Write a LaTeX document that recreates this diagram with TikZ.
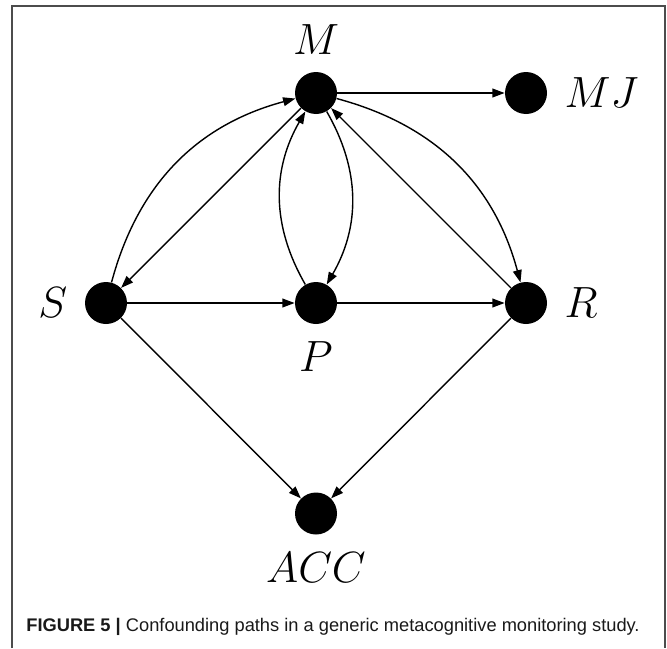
\documentclass[tikz,border=0pt]{standalone}
\usepackage{fontspec}
\usepackage{xcolor}
\usepackage{tikz}
\usetikzlibrary{arrows.meta}
\newfontfamily\capfont{Liberation Sans}

\begin{document}
\begin{tikzpicture}[>={Triangle[length=7pt, width=5pt]},
    dot/.style={circle, fill=black, minimum size=0.84cm, inner sep=0pt},
    lbl/.style={font=\fontsize{24}{28}\selectfont, inner sep=0pt, label distance=0.34cm},
    edge/.style={->, line width=0.8pt}]
    \useasboundingbox (0,0) rectangle (13.34,-12.96);

    % frame
    \draw[line width=1.1pt, gray!60!black] (0.24,-12.96) -- (0.24,-0.12) -- (13.3,-0.12) -- (13.3,-12.96);

    % nodes
    \node[dot, label={[lbl]above:$M$}] (m) at (6.32,-1.86) {};
    \node[dot, label={[lbl]right:$MJ$}] (mj) at (10.52,-1.86) {};
    \node[dot, label={[lbl]left:$S$}] (s) at (2.12,-6.06) {};
    \node[dot, label={[lbl]below:$P$}] (p) at (6.32,-6.06) {};
    \node[dot, label={[lbl]right:$R$}] (r) at (10.52,-6.06) {};
    \node[dot, label={[lbl]below:$ACC$}] (acc) at (6.32,-10.27) {};

    % paths
    \draw[edge] (s) to[bend left=30] (m);
    \draw[edge] (m) -- (s);
    \draw[edge] (s) -- (p);
    \draw[edge] (p) -- (r);
    \draw[edge] (p) to[bend left=30] (m);
    \draw[edge] (m) to[bend left=30] (p);
    \draw[edge] (m) -- (mj);
    \draw[edge] (m) to[bend left=30] (r);
    \draw[edge] (r) -- (m);
    \draw[edge] (s) -- (acc);
    \draw[edge] (r) -- (acc);

    % caption
    \node[anchor=base west, inner sep=0pt, font=\capfont\fontsize{10.4}{12.5}\selectfont, text=gray!20!black] (cap) at (0.52,-12.62)
        {\textbf{FIGURE 5 |} Confounding paths in a generic metacognitive monitoring study.};
\end{tikzpicture}
\end{document}
